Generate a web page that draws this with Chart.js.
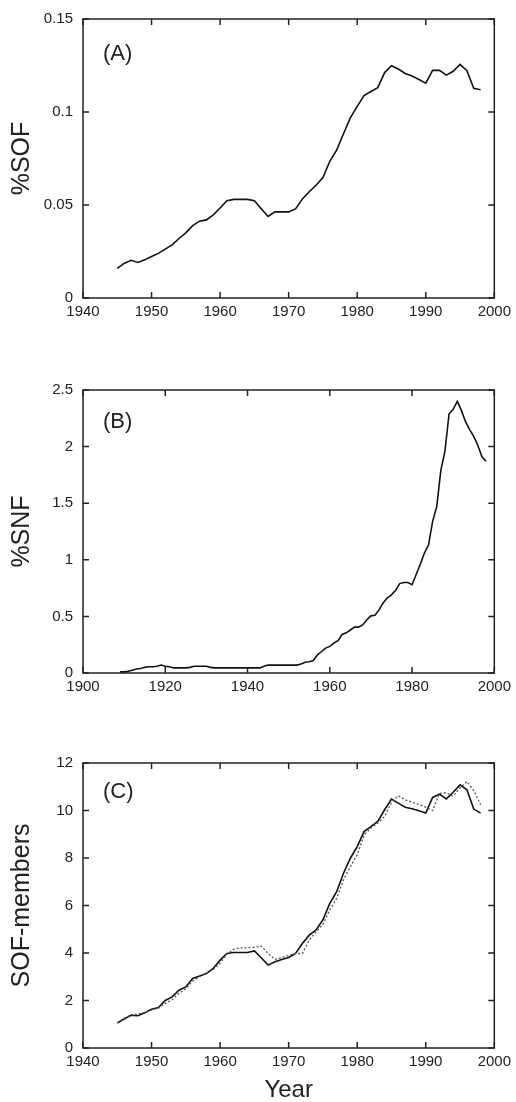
<!DOCTYPE html>
<html>
<head>
<meta charset="utf-8">
<script src="https://cdn.jsdelivr.net/npm/chart.js@4/dist/chart.umd.min.js"></script>
<style>
  body { margin: 0; background: #fff; width: 516px; height: 1102px; position: relative; }
  canvas { position: absolute; left: 0; }
</style>
</head>
<body>
<canvas id="chartA" width="516" height="330" style="top:0px"></canvas>
<canvas id="chartB" width="516" height="340" style="top:360px"></canvas>
<canvas id="chartC" width="516" height="372" style="top:730px"></canvas>
<script>
// Panel (A): %SOF by year
var yearsA = [1945,1946,1947,1948,1949,1950,1951,1952,1953,1954,1955,1956,1957,1958,1959,
  1960,1961,1962,1963,1964,1965,1966,1967,1968,1969,1970,1971,1972,1973,1974,1975,1976,
  1977,1978,1979,1980,1981,1982,1983,1984,1985,1986,1987,1988,1989,1990,1991,1992,1993,
  1994,1995,1996,1997,1998];
var sofPct = [0.0159,0.0186,0.0203,0.0191,0.0205,0.0223,0.0240,0.0263,0.0286,0.0320,0.0350,
  0.0389,0.0413,0.0420,0.0447,0.0484,0.0523,0.0530,0.0530,0.0530,0.0523,0.0480,0.0438,
  0.0463,0.0463,0.0463,0.0479,0.0532,0.0571,0.0606,0.0647,0.0735,0.0795,0.0883,0.0968,
  0.1030,0.1088,0.1110,0.1131,0.1212,0.1249,0.1231,0.1207,0.1193,0.1175,0.1155,0.1224,
  0.1224,0.1198,0.1219,0.1256,0.1222,0.1127,0.1120];

// Panel (B): %SNF by year
var yearsB = [1909,1910,1911,1912,1913,1914,1915,1916,1917,1918,1919,1920,1921,1922,1923,
  1924,1925,1926,1927,1928,1929,1930,1931,1932,1933,1934,1935,1936,1937,1938,1939,1940,
  1941,1942,1943,1944,1945,1946,1947,1948,1949,1950,1951,1952,1953,1954,1955,1956,1957,
  1958,1959,1960,1961,1962,1963,1964,1965,1966,1967,1968,1969,1970,1971,1972,1973,1974,
  1975,1976,1977,1978,1979,1980,1981,1982,1983,1984,1985,1986,1987,1988,1989,1990,1991,
  1992,1993,1994,1995,1996,1997,1998];
var snfPct = [0.01,0.01,0.015,0.025,0.035,0.04,0.05,0.055,0.055,0.06,0.07,0.06,0.055,0.045,
  0.045,0.045,0.045,0.05,0.06,0.06,0.06,0.06,0.05,0.045,0.045,0.045,0.045,0.045,0.045,0.045,
  0.045,0.045,0.045,0.045,0.045,0.06,0.07,0.07,0.07,0.07,0.07,0.07,0.07,0.07,0.08,0.095,
  0.10,0.11,0.16,0.19,0.22,0.235,0.265,0.285,0.34,0.355,0.38,0.405,0.405,0.425,0.47,0.505,
  0.51,0.56,0.62,0.665,0.69,0.73,0.79,0.80,0.80,0.78,0.87,0.96,1.06,1.13,1.34,1.47,1.79,
  1.96,2.29,2.33,2.40,2.32,2.22,2.15,2.09,2.01,1.91,1.87];

// Panel (C): SOF-members, two series (solid and dotted)
var yearsC = yearsA;
var membersSolid = [1.05,1.22,1.38,1.36,1.48,1.63,1.70,2.00,2.15,2.43,2.57,2.93,3.03,3.14,
  3.35,3.70,3.98,4.02,4.02,4.02,4.09,3.80,3.49,3.63,3.73,3.81,3.98,4.40,4.75,4.97,5.40,6.09,
  6.58,7.36,7.99,8.48,9.11,9.32,9.54,10.03,10.48,10.31,10.14,10.07,9.99,9.89,10.55,10.69,
  10.49,10.77,11.08,10.87,10.06,9.89];
var membersDotted = [1.05,1.25,1.40,1.42,1.50,1.60,1.68,1.88,2.03,2.30,2.50,2.82,3.00,3.15,
  3.30,3.58,3.95,4.16,4.22,4.22,4.24,4.29,3.98,3.73,3.81,3.90,3.98,3.98,4.54,4.90,5.20,5.82,
  6.30,7.08,7.64,8.13,8.97,9.26,9.47,9.75,10.34,10.62,10.45,10.35,10.25,10.14,10.00,10.72,
  10.75,10.60,10.95,11.22,10.84,10.24];

// tick labels
var xTicksA = [1940,1950,1960,1970,1980,1990,2000];
var xTicksB = [1900,1920,1940,1960,1980,2000];
var yTicksA = [0,0.05,0.1,0.15];
var yTicksB = [0,0.5,1,1.5,2,2.5];
var yTicksC = [0,2,4,6,8,10,12];

Chart.defaults.font.family = '"Liberation Sans", Arial, sans-serif';
Chart.defaults.color = '#222';

// box around the plot, inward ticks on all four sides, panel letter
var framePlugin = {
  id: 'frame',
  afterDraw: function(chart, args, opts) {
    var ctx = chart.ctx;
    var a = chart.chartArea;
    var xs = chart.scales.x;
    var ys = chart.scales.y;
    ctx.save();
    ctx.strokeStyle = '#222';
    ctx.lineWidth = 1.5;
    ctx.strokeRect(a.left, a.top, a.right - a.left, a.bottom - a.top);
    ctx.beginPath();
    xs.ticks.forEach(function(t) {
      var px = xs.getPixelForValue(t.value);
      ctx.moveTo(px, a.bottom); ctx.lineTo(px, a.bottom - 6);
      ctx.moveTo(px, a.top); ctx.lineTo(px, a.top + 6);
    });
    ys.ticks.forEach(function(t) {
      var py = ys.getPixelForValue(t.value);
      ctx.moveTo(a.left, py); ctx.lineTo(a.left + 6, py);
      ctx.moveTo(a.right, py); ctx.lineTo(a.right - 6, py);
    });
    ctx.stroke();
    ctx.fillStyle = '#222';
    ctx.font = '22px "Liberation Sans", Arial, sans-serif';
    ctx.textBaseline = 'middle';
    ctx.fillText(opts.label, a.left + 20, a.top + opts.labelDy);
    ctx.restore();
  }
};

function points(xs, ys) {
  var out = [];
  for (var i = 0; i < xs.length; i++) out.push({x: xs[i], y: ys[i]});
  return out;
}

function makeChart(id, p) {
  var datasets = p.series.map(function(s) {
    return {
      data: points(s.x, s.y),
      borderColor: s.color,
      borderWidth: s.width,
      borderDash: s.dash || [],
      pointRadius: 0,
      tension: 0,
      fill: false
    };
  });
  return new Chart(document.getElementById(id), {
    type: 'line',
    data: { datasets: datasets },
    plugins: [framePlugin],
    options: {
      responsive: false,
      animation: false,
      layout: { padding: { top: p.padTop, right: 19, left: 0, bottom: 0 } },
      plugins: {
        legend: { display: false },
        tooltip: { enabled: false },
        frame: { label: p.label, labelDy: p.labelDy }
      },
      scales: {
        x: {
          type: 'linear',
          min: p.xTicks[0],
          max: p.xTicks[p.xTicks.length - 1],
          afterBuildTicks: function(s) { s.ticks = p.xTicks.map(function(v) { return {value: v}; }); },
          afterFit: function(s) { s.height = p.xHeight; },
          grid: { display: false, drawTicks: false },
          border: { display: false },
          ticks: { padding: 5, maxRotation: 0, font: { size: 15 }, callback: function(v) { return String(v); } },
          title: {
            display: !!p.xTitle,
            text: p.xTitle || '',
            font: { size: 24, lineHeight: 1 },
            padding: { top: 0, bottom: 0 }
          }
        },
        y: {
          min: p.yTicks[0],
          max: p.yTicks[p.yTicks.length - 1],
          afterBuildTicks: function(s) { s.ticks = p.yTicks.map(function(v) { return {value: v}; }); },
          afterFit: function(s) { s.width = 83; },
          grid: { display: false, drawTicks: false },
          border: { display: false },
          ticks: { padding: 10, font: { size: 15 }, callback: function(v) { return String(v); } },
          title: {
            display: true,
            text: p.yTitle,
            font: { size: 25 },
            padding: { top: 7, bottom: 0 }
          }
        }
      }
    }
  });
}

makeChart('chartA', {
  label: '(A)', labelDy: 35, padTop: 15, xHeight: 32,
  xTicks: xTicksA, yTicks: yTicksA, yTitle: '%SOF',
  series: [{ x: yearsA, y: sofPct, color: '#111', width: 1.6 }]
});

makeChart('chartB', {
  label: '(B)', labelDy: 32, padTop: 30, xHeight: 27,
  xTicks: xTicksB, yTicks: yTicksB, yTitle: '%SNF',
  series: [{ x: yearsB, y: snfPct, color: '#111', width: 1.6 }]
});

makeChart('chartC', {
  label: '(C)', labelDy: 29, padTop: 33, xHeight: 54,
  xTicks: xTicksA, yTicks: yTicksC, yTitle: 'SOF-members', xTitle: 'Year',
  series: [
    { x: yearsC, y: membersDotted, color: '#555', width: 1.3, dash: [2, 2] },
    { x: yearsC, y: membersSolid, color: '#111', width: 1.6 }
  ]
});
</script>
</body>
</html>
